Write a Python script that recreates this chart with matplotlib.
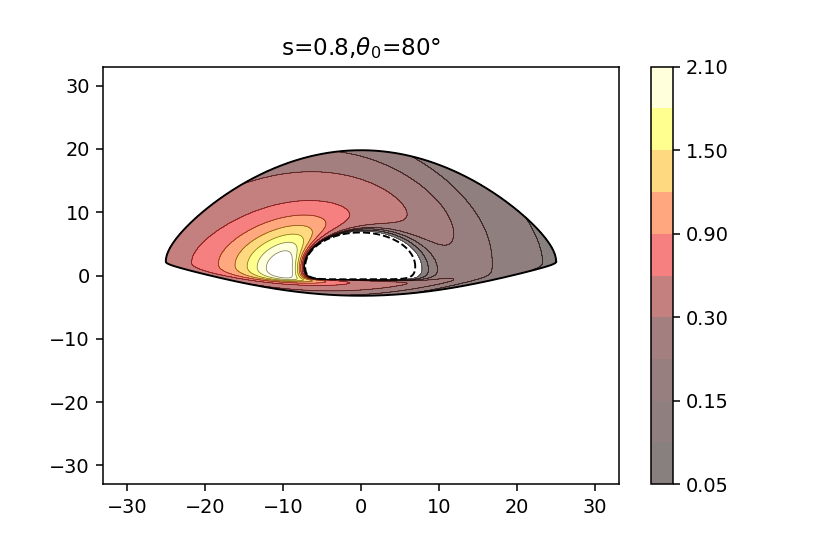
import numpy as np
import matplotlib.pyplot as plt

# contour levels and colorbar ticks
levels = [0.05, 0.1, 0.15, 0.2, 0.3, 0.6, 0.9, 1.2, 1.5, 1.8, 2.1]
cbar_ticks = [0.05, 0.15, 0.30, 0.90, 1.50, 2.10]

# disk parameters (title + inner/outer edge of the image)
spin = 0.8
incl = 80.0
r_in = 6.0
r_out = 24.0
peak_value = 2.45

# image of inner edge (dashed) and outer edge (solid), [inner, outer]
half_width = [7.05, 25.0]
x_center = [-0.1, 0.0]
y_tip = [1.4, 2.2]
tip_dip = 0.6
y_top = [6.8, 19.8]
y_bottom = [-0.6, -3.2]
# edge profile near the tips: slope, curvature power (upper / lower half)
slope_up = [1.0, 0.55]
pow_up = [1.0, 2.4]
slope_dn = [3.0, 0.4]
pow_dn = [3.0, 3.0]

# emissivity: power-law tail with a soft rise from the inner edge
k_tail = 1.9
rise_width = 3.3
rise_pow = 1.3
n_beam = 3.7

t = np.linspace(0, 1, 320)
phi = np.linspace(0, 2 * np.pi, 901)
T, P = np.meshgrid(t, phi, indexing='ij')


def lerp(pair):
    return pair[0] + (pair[1] - pair[0]) * T


def upper(s):
    inner = slope_up[0] * s + (1 - slope_up[0]) * s ** pow_up[0]
    outer = slope_up[1] * s + (1 - slope_up[1]) * s ** pow_up[1]
    return (1 - T) * inner + T * outer


def lower(s):
    inner = 1 - (1 - s) ** slope_dn[0]
    outer = slope_dn[1] * s + (1 - slope_dn[1]) * s ** pow_dn[1]
    return (1 - T) * inner + T * outer


s = np.sin(P)
c = np.cos(P)
W = lerp(half_width)
# tips of the inner rings sit a little lower
YC = lerp(y_tip) - tip_dip * (T / 0.15) * np.exp(1 - T / 0.15)
X = lerp(x_center) + W * c
Y = np.where(s >= 0,
             YC + (lerp(y_top) - YC) * upper(np.abs(s)),
             YC - (YC - lerp(y_bottom)) * lower(np.abs(s)))

R = r_in + (r_out - r_in) * T
sin_i = np.sin(np.radians(incl))
g = np.sqrt(1 - 3 / R + 2 * spin * R ** -1.5) / (1 + X * sin_i / (R ** 1.5 + spin))
emis = R ** -k_tail * (1 - np.exp(-((R - r_in) / rise_width) ** rise_pow))
F = emis * g ** n_beam
F = F / F.max() * peak_value

fig = plt.figure(figsize=(830 / 138.4, 554 / 138.4), dpi=138.4)
ax = fig.add_axes([0.1245, 0.1258, 0.6208, 0.7538])
cax = fig.add_axes([0.7848, 0.1258, 0.0255, 0.7538])

cs = ax.contourf(X, Y, F, levels=levels, cmap='hot', alpha=0.5)
ax.contour(X, Y, F, levels=levels, colors='k', linewidths=0.4, alpha=0.5)
ax.plot(X[-1], Y[-1], color='k', lw=1.0)
ax.plot(X[0], Y[0], color='k', lw=1.0, ls='--')

ax.set_xlim(-33, 33)
ax.set_ylim(-33, 33)
ax.set_xticks([-30, -20, -10, 0, 10, 20, 30])
ax.set_yticks([-30, -20, -10, 0, 10, 20, 30])
ax.set_title('s=0.8,$\\theta_0$=80°')

cb = fig.colorbar(cs, cax=cax, ticks=cbar_ticks)
cb.ax.set_yticklabels(['%.2f' % v for v in cbar_ticks])

fig.savefig('out.png', dpi=138.4)
